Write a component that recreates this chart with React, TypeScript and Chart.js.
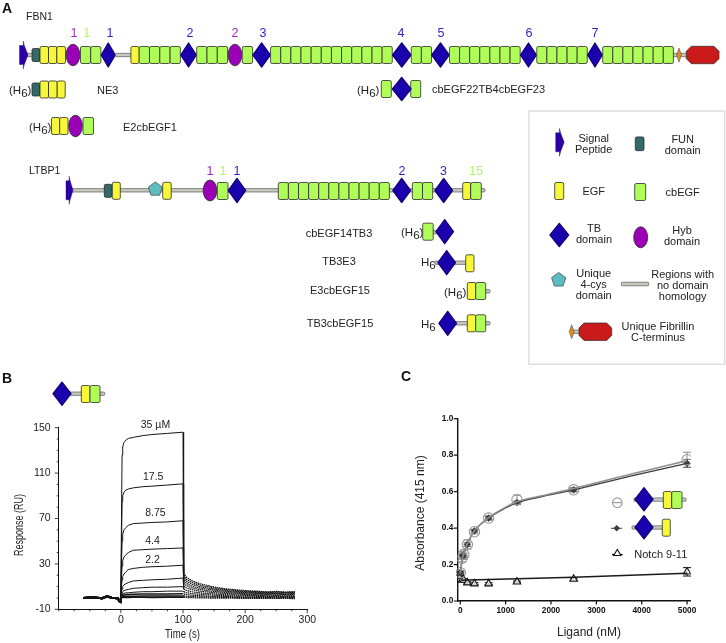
import React, { useEffect, useRef } from "react";
import { Chart, registerables } from "chart.js";

Chart.register(...registerables);

const FONT = '"Liberation Sans", Arial, sans-serif';

// ---------- Panel B data (SPR sensorgrams) ----------
const bPreTimes = [-60, -45, -30, -22, -15, -5, -1];
const bAssocTimes = [0, 1, 2, 3, 5, 8, 12, 20, 35, 50, 75, 99, 100];
const bDissocTimes = [101, 103, 106, 110, 115, 120, 128, 136, 145, 155, 165, 175, 190, 205, 220, 235, 250, 265, 280];
const bBaseline = [0, 0.4, -0.3, 1.4, 0.2, -0.2, -4];

const assoc35 = [0, 70, 126, 133, 137, 139, 140.5, 141.5, 143, 144, 145, 146, 146];
const assoc17 = [0, 45, 85, 90, 93, 95, 96, 97, 98, 98.5, 99.5, 100.5, 100.5];
const assoc8 = [0, 30, 50, 56, 60, 62, 64, 65.5, 66, 66.5, 67, 68, 68];
const assoc4 = [0, 18, 28, 33, 36, 38, 40, 42, 42.5, 43, 43.5, 44, 44.5];
const assoc2 = [0, 10, 16, 19, 21, 23, 25, 26, 27, 27.5, 28, 28.8, 29];
const assoc1 = [0, 5, 8, 10, 11.5, 12.5, 13.5, 15, 15.5, 16, 16.5, 17.5, 17.5];
const assoc05 = [0, 3, 4.5, 5.5, 6.5, 7, 7.5, 8.5, 9, 9.5, 9.5, 10, 10];
const assoc03 = [0, 1.5, 3, 3.5, 4, 4.5, 4.5, 5, 5.5, 5.5, 6, 6, 6];
const assoc014 = [0, 1, 2, 2.5, 2.5, 3, 3, 3.2, 3.4, 3.4, 3.5, 3.6, 3.6];
const assoc007 = [0, 0.5, 1, 1.2, 1.4, 1.5, 1.5, 1.6, 1.7, 1.7, 1.7, 1.8, 1.8];
const assoc003 = [0, 0.2, 0.3, 0.4, 0.5, 0.5, 0.5, 0.6, 0.6, 0.5, 0.6, 0.6, 0.6];

const dissoc35 = [22, 20, 18, 16.5, 15, 14, 12.4, 11.4, 10.2, 9.2, 8.3, 7.7, 7, 6.3, 5.9, 5.4, 5.8, 5.2, 5.6];
const dissoc17 = [20, 18, 16.3, 14.8, 13.6, 12.5, 11.2, 10.1, 9.3, 8.3, 7.6, 7.1, 6.2, 5.7, 5.5, 4.9, 5.2, 4.8, 5];
const dissoc8 = [18, 16, 14.5, 13.2, 12, 11.1, 9.9, 9, 8.2, 7.4, 6.9, 6.2, 5.7, 5.1, 4.7, 4.5, 4.4, 4.6, 4.3];
const dissoc4 = [15.5, 14, 12.7, 11.5, 10.4, 9.6, 8.6, 7.9, 7.2, 6.5, 5.9, 5.5, 4.8, 4.6, 4.1, 3.9, 4, 3.6, 3.9];
const dissoc2 = [13, 11.8, 10.8, 9.8, 8.9, 8.2, 7.3, 6.6, 6, 5.5, 5, 4.5, 4.2, 3.7, 3.6, 3.2, 3.4, 3, 3.3];
const dissoc1 = [10.5, 9.6, 8.8, 8, 7.3, 6.6, 5.9, 5.4, 4.9, 4.4, 4.1, 3.7, 3.3, 3.1, 2.8, 2.7, 2.5, 2.7, 2.4];
const dissoc05 = [8, 7.3, 6.6, 6, 5.4, 5, 4.5, 4, 3.7, 3.3, 3, 2.8, 2.5, 2.2, 2.2, 1.9, 2, 1.7, 1.9];
const dissoc03 = [5.6, 5.1, 4.6, 4.2, 3.8, 3.5, 3.1, 2.8, 2.6, 2.3, 2.1, 1.9, 1.6, 1.6, 1.3, 1.4, 1.1, 1.3, 1.1];
const dissoc014 = [3.6, 3.2, 2.9, 2.7, 2.4, 2.2, 1.9, 1.7, 1.5, 1.4, 1.2, 1.1, 0.9, 0.8, 0.8, 0.6, 0.7, 0.5, 0.6];
const dissoc007 = [1.9, 1.7, 1.5, 1.4, 1.2, 1.1, 0.9, 0.8, 0.7, 0.6, 0.5, 0.5, 0.3, 0.4, 0.2, 0.3, 0.1, 0.2, 0];
const dissoc003 = [0.7, 0.5, 0.4, 0.3, 0.3, 0.1, 0.1, 0, -0.1, -0.1, -0.2, -0.2, -0.3, -0.3, -0.4, -0.3, -0.5, -0.4, -0.6];

const bAssocSeries = [assoc35, assoc17, assoc8, assoc4, assoc2, assoc1, assoc05, assoc03, assoc014, assoc007, assoc003];
const bDissocSeries = [dissoc35, dissoc17, dissoc8, dissoc4, dissoc2, dissoc1, dissoc05, dissoc03, dissoc014, dissoc007, dissoc003];

const bConcLabels = ["35 \u00b5M", "17.5", "8.75", "4.4", "2.2"];
const bConcLabelTimes = [55.7, 52, 55.7, 51, 51];
const bConcLabelRU = [152.4, 106.6, 74.8, 50.1, 33.4];
const bYLabels = [-10, 30, 70, 110, 150];
const bXLabels = [0, 100, 200, 300];
const bYTicks = [-10, 0, 10, 20, 30, 40, 50, 60, 70, 80, 90, 100, 110, 120, 130, 140, 150];
const bXTicks = [-100, -75, -50, -25, 0, 25, 50, 75, 100, 125, 150, 175, 200, 225, 250, 275, 300];

// ---------- Panel C data (solid-phase binding) ----------
const cLigand = [0, 39, 78, 156, 312, 625, 1250, 2500, 5000];
const cOpenCircle = [0.155, 0.235, 0.255, 0.31, 0.38, 0.455, 0.555, 0.61, 0.775];
const cOpenErr = [0.012, 0.02, 0.025, 0.025, 0.012, 0.012, 0.026, 0.012, 0.041];
const cDarkPoint = [0.155, 0.25, 0.25, 0.31, 0.385, 0.455, 0.54, 0.61, 0.755];
const cDarkErr = [0.008, 0.02, 0.012, 0.01, 0.008, 0.008, 0.008, 0.008, 0.022];
const cTriangle = [0.15, 0.115, 0.115, 0.1, 0.095, 0.095, 0.105, 0.12, 0.16];
const cTriErr = [0.008, 0.008, 0.006, 0.006, 0.005, 0.005, 0.005, 0.006, 0.023];

const cFitX = [0, 20, 39, 78, 156, 312, 625, 1000, 1250, 1800, 2500, 3750, 5000];
const cFitOpen = [0.15, 0.19, 0.225, 0.262, 0.315, 0.385, 0.457, 0.515, 0.545, 0.577, 0.617, 0.695, 0.77];
const cFitDark = [0.15, 0.19, 0.225, 0.262, 0.315, 0.385, 0.455, 0.51, 0.54, 0.572, 0.61, 0.685, 0.755];
const cFitTriX = [39, 156, 625, 1250, 2500, 3750, 5000];
const cFitTri = [0.114, 0.115, 0.118, 0.122, 0.13, 0.141, 0.152];
const cXTicks = [0, 1000, 2000, 3000, 4000, 5000];
const cYTicks = [0, 0.2, 0.4, 0.6, 0.8, 1.0];

// ---------- Colours ----------
const EGF = "#f7f73a";
const CB = "#b0fd5a";
const TB = "#1b00ae";
const HYB = "#9a00b6";
const FUN = "#33696b";
const SIG = "#2b00a5";
const PENT = "#5dbcc0";
const RED = "#cb1a1a";
const ORG = "#e08a20";
const LINK = "#c6c8bb";
const PURPLE = "#a428c4";
const LIME = "#b6f26a";
const BLUE = "#2f1fc4";
const EDGE = "#2a2a2a";

// ---------- Chart.js helpers ----------
function tickMarkPlugin(xMajors: number[], yMajors: number[], major: number, minor: number, w: number) {
  return {
    id: "tickMarks",
    afterDraw(chart: any) {
      const { ctx, scales } = chart;
      ctx.save();
      ctx.strokeStyle = "#111";
      ctx.lineWidth = w;
      ctx.beginPath();
      for (const t of scales.x.ticks) {
        const px = scales.x.getPixelForValue(t.value);
        const len = xMajors.includes(t.value) ? major : minor;
        ctx.moveTo(px, scales.x.top);
        ctx.lineTo(px, scales.x.top + len);
      }
      for (const t of scales.y.ticks) {
        const py = scales.y.getPixelForValue(t.value);
        const len = yMajors.some((m) => Math.abs(m - t.value) < 1e-6) ? major : minor;
        ctx.moveTo(scales.y.right, py);
        ctx.lineTo(scales.y.right - len, py);
      }
      ctx.stroke();
      ctx.restore();
    },
  };
}

// Axis titles placed by hand: the reference's titles are off-centre from their axes,
// and those of panel B are horizontally condensed (xStretch / yStretch).
function axisTitlePlugin(
  xText: string, xCx: number, xCy: number, xSize: number, xStretch: number,
  yText: string, yCx: number, yCy: number, ySize: number, yStretch: number,
) {
  return {
    id: "axisTitles",
    afterDraw(chart: any) {
      const { ctx } = chart;
      ctx.save();
      ctx.fillStyle = "#222";
      ctx.textAlign = "center";
      ctx.textBaseline = "middle";
      ctx.save();
      ctx.translate(xCx, xCy);
      ctx.scale(xStretch, 1);
      ctx.font = `${xSize}px ${FONT}`;
      ctx.fillText(xText, 0, 0);
      ctx.restore();
      ctx.translate(yCx, yCy);
      ctx.rotate(-Math.PI / 2);
      ctx.scale(yStretch, 1);
      ctx.font = `${ySize}px ${FONT}`;
      ctx.fillText(yText, 0, 0);
      ctx.restore();
    },
  };
}

const concLabelPlugin = {
  id: "concLabels",
  afterDraw(chart: any) {
    const { ctx, scales } = chart;
    ctx.save();
    ctx.font = `10.5px ${FONT}`;
    ctx.fillStyle = "#222";
    ctx.textAlign = "center";
    ctx.textBaseline = "middle";
    bConcLabels.forEach((s, i) => {
      ctx.fillText(s, scales.x.getPixelForValue(bConcLabelTimes[i]), scales.y.getPixelForValue(bConcLabelRU[i]));
    });
    ctx.restore();
  },
};

const errorBarPlugin = {
  id: "errorBars",
  beforeDatasetsDraw(chart: any) {
    const { ctx, scales } = chart;
    const series: [number[], number[], string, number][] = [
      [cOpenCircle, cOpenErr, "#8c8c8c", 1],
      [cDarkPoint, cDarkErr, "#555", 0.8],
      [cTriangle, cTriErr, "#111", 1],
    ];
    ctx.save();
    for (const [vals, errs, color, lw] of series) {
      ctx.strokeStyle = color;
      ctx.lineWidth = lw;
      vals.forEach((v, i) => {
        const px = scales.x.getPixelForValue(cLigand[i]);
        const hi = scales.y.getPixelForValue(v + errs[i]);
        const lo = scales.y.getPixelForValue(v - errs[i]);
        ctx.beginPath();
        ctx.moveTo(px, hi);
        ctx.lineTo(px, lo);
        ctx.moveTo(px - 4, hi);
        ctx.lineTo(px + 4, hi);
        ctx.moveTo(px - 4, lo);
        ctx.lineTo(px + 4, lo);
        ctx.stroke();
      });
    }
    ctx.restore();
  },
};

function xy(xs: number[], ys: number[]) {
  return xs.map((x, i) => ({ x, y: ys[i] }));
}

function ChartB() {
  const ref = useRef<HTMLCanvasElement>(null);
  useEffect(() => {
    const allTimes = [...bPreTimes, ...bAssocTimes, ...bDissocTimes];
    const chart = new Chart(ref.current as HTMLCanvasElement, {
      type: "line",
      data: {
        datasets: bAssocSeries.map((a, i) => ({
          data: xy(allTimes, [...bBaseline, ...a, ...bDissocSeries[i]]),
          borderColor: "#151515",
          borderWidth: i >= 8 ? 1.5 : 1,
          pointRadius: 0,
          tension: 0,
          segment: {
            borderDash: (c: any) => (c.p0.parsed.x >= 101 ? [1.6, 0.6] : undefined),
            borderWidth: (c: any) => (c.p0.parsed.x < -1 ? 2 : c.p0.parsed.x >= 101 ? 1.2 : undefined),
          },
        })),
      },
      options: {
        animation: false,
        responsive: false,
        layout: { padding: { left: 0, top: 22.7, right: 22.7, bottom: 0 } },
        plugins: { legend: { display: false }, tooltip: { enabled: false } },
        scales: {
          x: {
            type: "linear",
            min: -100,
            max: 300,
            afterFit: (s: any) => { s.height = 33.7; },
            afterBuildTicks: (s: any) => { s.ticks = bXTicks.map((value) => ({ value })); },
            border: { display: true, color: "#111", width: 1 },
            grid: { display: false, drawTicks: false },
            ticks: {
              autoSkip: false,
              maxRotation: 0,
              padding: 5,
              color: "#222",
              font: { family: FONT, size: 10.5 },
              callback: (v: any) => (bXLabels.includes(Number(v)) ? String(v) : ""),
            },
          },
          y: {
            type: "linear",
            min: -10,
            max: 150,
            afterFit: (s: any) => { s.width = 58.7; },
            afterBuildTicks: (s: any) => { s.ticks = bYTicks.map((value) => ({ value })); },
            border: { display: true, color: "#111", width: 1 },
            grid: { display: false, drawTicks: false },
            ticks: {
              autoSkip: false,
              padding: 8,
              color: "#222",
              font: { family: FONT, size: 10.5 },
              callback: (v: any) => (bYLabels.includes(Number(v)) ? String(v) : ""),
            },
          },
        },
      },
      plugins: [
        tickMarkPlugin(bXLabels, bYLabels, 4, 2, 0.8),
        concLabelPlugin,
        axisTitlePlugin("Time (s)", 182.5, 230, 12, 0.8, "Response (RU)", 20, 120, 12, 0.75),
      ],
    } as any);
    return () => chart.destroy();
  }, []);
  return <canvas ref={ref} width={330} height={238} style={{ position: "absolute", left: 0, top: 405 }} />;
}

function ChartC() {
  const ref = useRef<HTMLCanvasElement>(null);
  useEffect(() => {
    const chart = new Chart(ref.current as HTMLCanvasElement, {
      type: "line",
      data: {
        datasets: [
          { data: xy(cFitX, cFitOpen), borderColor: "#8f8f8f", borderWidth: 1.6, pointRadius: 0, cubicInterpolationMode: "monotone" },
          { data: xy(cFitX, cFitDark), borderColor: "#3a3a3a", borderWidth: 1.3, pointRadius: 0, cubicInterpolationMode: "monotone" },
          { data: xy(cFitTriX, cFitTri), borderColor: "#1a1a1a", borderWidth: 1.4, pointRadius: 0 },
          { data: xy(cLigand, cOpenCircle), showLine: false, pointStyle: "circle", pointRadius: 5.2, pointBorderColor: "#9a9a9a", pointBorderWidth: 1.1, pointBackgroundColor: "rgba(255,255,255,0)" },
          { data: xy(cLigand, cDarkPoint), showLine: false, pointStyle: "rectRot", pointRadius: 3.4, pointBorderColor: "#3c3c3c", pointBorderWidth: 0.6, pointBackgroundColor: "#3c3c3c" },
          { data: xy(cLigand, cTriangle), showLine: false, pointStyle: "triangle", pointRadius: 4.3, pointBorderColor: "#111", pointBorderWidth: 1.1, pointBackgroundColor: "rgba(255,255,255,0.75)" },
        ],
      },
      options: {
        animation: false,
        responsive: false,
        layout: { padding: { left: 0, top: 18.7, right: 35.3, bottom: 0 } },
        plugins: { legend: { display: false }, tooltip: { enabled: false } },
        scales: {
          x: {
            type: "linear",
            min: -66,
            max: 5080,
            afterFit: (s: any) => { s.height = 42; },
            afterBuildTicks: (s: any) => { s.ticks = cXTicks.map((value) => ({ value })); },
            border: { display: true, color: "#111", width: 1.4 },
            grid: { display: false, drawTicks: false },
            ticks: {
              autoSkip: false,
              maxRotation: 0,
              padding: 5,
              color: "#111",
              font: { family: FONT, size: 8.3, weight: "bold" },
              callback: (v: any) => String(v),
            },
          },
          y: {
            type: "linear",
            min: 0,
            max: 1,
            afterFit: (s: any) => { s.width = 57.3; },
            afterBuildTicks: (s: any) => { s.ticks = cYTicks.map((value) => ({ value })); },
            border: { display: true, color: "#111", width: 1.4 },
            grid: { display: false, drawTicks: false },
            ticks: {
              autoSkip: false,
              padding: 4,
              color: "#111",
              font: { family: FONT, size: 8.3, weight: "bold" },
              callback: (v: any) => Number(v).toFixed(1),
            },
          },
        },
      },
      plugins: [
        tickMarkPlugin(cXTicks, cYTicks, 3.5, 3.5, 1.2),
        errorBarPlugin,
        axisTitlePlugin("Ligand (nM)", 189, 232.7, 12, 1, "Absorbance (415 nm)", 20.7, 113, 12, 1),
      ],
    } as any);
    return () => chart.destroy();
  }, []);
  return <canvas ref={ref} width={326} height={243} style={{ position: "absolute", left: 400, top: 400 }} />;
}

// ---------- Schematic glyphs ----------
function Box({ x, w, y, h, fill }: any) {
  return <rect x={x} y={y - h / 2} width={w} height={h} rx={1.6} fill={fill} stroke={EDGE} strokeWidth={0.8} />;
}
const Egf = ({ x, w = 8.3, y, h = 17 }: any) => <Box x={x} w={w} y={y} h={h} fill={EGF} />;
const Cb = ({ x, w = 10.2, y, h = 17 }: any) => <Box x={x} w={w} y={y} h={h} fill={CB} />;
const Fun = ({ x, w = 8, y, h = 13 }: any) => <Box x={x} w={w} y={y} h={h} fill={FUN} />;
function Diamond({ cx, cy, rx = 9, ry = 12 }: any) {
  return (
    <path
      d={`M${cx} ${cy - ry}L${cx + rx} ${cy}L${cx} ${cy + ry}L${cx - rx} ${cy}Z`}
      fill={TB}
      stroke="#14007a"
      strokeWidth={1.3}
      strokeLinejoin="round"
    />
  );
}
function Hyb({ cx, cy, rx = 6.8, ry = 10.8 }: any) {
  return <ellipse cx={cx} cy={cy} rx={rx} ry={ry} fill={HYB} stroke={EDGE} strokeWidth={0.8} />;
}
function Link({ x1, x2, y, h = 3.4 }: any) {
  return <rect x={x1} y={y - h / 2} width={x2 - x1} height={h} rx={0.8} fill={LINK} stroke="#444" strokeWidth={0.6} />;
}
function Signal({ x, y, w = 8.5 }: any) {
  const a = x + w * 0.45;
  return (
    <polygon
      points={`${x},${y - 9.5} ${a},${y - 9.5} ${a},${y - 14} ${a + 1},${y - 9.5} ${x + w},${y} ${a + 1},${y + 9.5} ${a},${y + 14} ${a},${y + 9.5} ${x},${y + 9.5}`}
      fill={SIG}
      stroke="#1a0070"
      strokeWidth={0.4}
    />
  );
}
function Pentagon({ cx, cy, r = 7.3 }: any) {
  const pts = [0, 72, 144, 216, 288]
    .map((d) => {
      const t = (d * Math.PI) / 180;
      return `${cx + r * Math.sin(t)},${cy - r * Math.cos(t)}`;
    })
    .join(" ");
  return <polygon points={pts} fill={PENT} stroke="#444" strokeWidth={0.7} strokeLinejoin="round" />;
}
function Cterm({ x1, x2, y, h = 17.4 }: any) {
  const c = 5;
  const t = y - h / 2;
  const b = y + h / 2;
  return (
    <polygon
      points={`${x1 + c},${t} ${x2 - c},${t} ${x2},${t + c} ${x2},${b - c} ${x2 - c},${b} ${x1 + c},${b} ${x1},${b - c} ${x1},${t + c}`}
      fill={RED}
      stroke={EDGE}
      strokeWidth={0.7}
    />
  );
}
function Spark({ cx, cy }: any) {
  return <path d={`M${cx} ${cy - 7}L${cx + 2.5} ${cy}L${cx} ${cy + 7}L${cx - 2.5} ${cy}Z`} fill={ORG} stroke="#444" strokeWidth={0.5} />;
}
function T({ x, y, s, size = 11, color = "#222", anchor = "middle", weight }: any) {
  return (
    <text x={x} y={y} fontSize={size} fill={color} textAnchor={anchor} fontWeight={weight} dominantBaseline="central" fontFamily={FONT}>
      {s}
    </text>
  );
}
function H6({ x, y, paren = true }: any) {
  return (
    <text x={x} y={y} fontSize={11.5} fill="#222" dominantBaseline="central" fontFamily={FONT}>
      {paren ? "(H" : "H"}
      <tspan dy={3}>6</tspan>
      {paren ? <tspan dy={-3}>)</tspan> : null}
    </text>
  );
}

// sequence of domains on one line: each piece has a kind and a width
function Row({ x0, y, pieces }: { x0: number; y: number; pieces: [string, number][] }) {
  let x = x0;
  return (
    <>
      {pieces.map(([k, w], i) => {
        const at = x;
        x += w;
        if (k === "E") return <Egf key={i} x={at} w={w} y={y} />;
        if (k === "C") return <Cb key={i} x={at} w={w} y={y} />;
        if (k === "F") return <Fun key={i} x={at} w={w} y={y} />;
        if (k === "H") return <Hyb key={i} cx={at + w / 2} cy={y} />;
        if (k === "T") return <Diamond key={i} cx={at + w / 2} cy={y} rx={w / 2 - 0.3} />;
        if (k === "L") return <Link key={i} x1={at} x2={at + w} y={y} />;
        return null;
      })}
    </>
  );
}

const times = (n: number, k: string, w: number): [string, number][] => Array.from({ length: n }, () => [k, w] as [string, number]);

const fbn1Pieces: [string, number][] = [
  ["F", 8], ["E", 8.5], ["E", 8.3], ["E", 8.7], ["H", 15], ...times(2, "C", 10.2), ["T", 14.7], ["L", 15.3], ["E", 8.3],
  ...times(4, "C", 10.3), ["T", 16.3], ...times(3, "C", 10.3), ["H", 14.7], ["C", 10.3], ["T", 18], ...times(12, "C", 10.14),
  ["T", 19], ...times(2, "C", 10.1), ["T", 18], ...times(7, "C", 10.1), ["T", 16.6], ...times(5, "C", 10.1), ["T", 15.4], ...times(7, "C", 10.1),
];

const fbn1Numbers: [number, string, string][] = [
  [74, "1", PURPLE], [86.7, "1", LIME], [110, "1", BLUE], [190, "2", BLUE], [235, "2", PURPLE], [263, "3", BLUE],
  [401, "4", BLUE], [441, "5", BLUE], [529, "6", BLUE], [595, "7", BLUE],
];
const ltbpNumbers: [number, string, string][] = [
  [210, "1", PURPLE], [223, "1", LIME], [237, "1", BLUE], [402, "2", BLUE], [443.5, "3", BLUE], [476, "15", LIME],
];

function Schematic() {
  return (
    <svg width={726} height={643} style={{ position: "absolute", left: 0, top: 0 }}>
      <T x={2} y={8} s="A" size={14} weight="bold" anchor="start" color="#111" />
      <T x={2} y={378} s="B" size={14} weight="bold" anchor="start" color="#111" />
      <T x={401} y={376} s="C" size={14} weight="bold" anchor="start" color="#111" />

      {/* FBN1 */}
      <T x={26} y={16} s="FBN1" size={10.5} anchor="start" />
      {fbn1Numbers.map(([x, s, c], i) => <T key={i} x={x} y={33} s={s} size={12.5} color={c} />)}
      <Link x1={24} x2={34} y={55} />
      <Link x1={672} x2={688} y={55} />
      <Signal x={19.5} y={55} />
      <Row x0={32} y={55} pieces={fbn1Pieces} />
      <Spark cx={679} cy={55} />
      <Cterm x1={686.3} x2={719} y={55} />

      {/* NE3 */}
      <H6 x={9} y={90} />
      <Row x0={32} y={89.5} pieces={[["F", 8], ["E", 8.5], ["E", 8.7], ["E", 8]]} />
      <T x={97} y={90} s="NE3" anchor="start" />

      {/* E2cbEGF1 */}
      <H6 x={29} y={127} />
      <Row x0={51.5} y={126} pieces={[["E", 8.2], ["E", 8.3], ["H", 15], ["C", 10.5]]} />
      <T x={123} y={127} s="E2cbEGF1" anchor="start" />

      {/* cbEGF22TB4cbEGF23 */}
      <H6 x={357} y={90} />
      <Cb x={381.3} w={10} y={89} />
      <Cb x={410.7} w={10} y={89} />
      <Diamond cx={401.7} cy={89} rx={9.3} ry={11.5} />
      <T x={432} y={89} s="cbEGF22TB4cbEGF23" anchor="start" />

      {/* LTBP1 */}
      <T x={29} y={169.5} s="LTBP1" size={10.5} anchor="start" />
      {ltbpNumbers.map(([x, s, c], i) => <T key={i} x={x} y={171} s={s} size={12.5} color={c} />)}
      <Link x1={70} x2={485} y={190.3} />
      <Signal x={66} y={190.3} w={7} />
      <Fun x={104.3} w={7.8} y={190.8} />
      <Egf x={112.3} w={8} y={190.8} />
      <Pentagon cx={155.3} cy={189.3} />
      <Egf x={162.7} w={8.5} y={190.8} />
      <Hyb cx={210} cy={190.5} ry={10.5} />
      <Cb x={217.3} w={10.7} y={191} />
      <Diamond cx={237} cy={190.5} rx={8.6} />
      <Row x0={278.3} y={191} pieces={times(11, "C", 10.1)} />
      <Diamond cx={401.7} cy={190.5} rx={8.8} />
      <Cb x={412.3} w={10.2} y={191} />
      <Cb x={422.5} w={10.2} y={191} />
      <Diamond cx={443.7} cy={190.5} rx={8.8} />
      <Egf x={462.7} w={8} y={191} />
      <Cb x={470.7} w={10.6} y={191} />

      {/* LTBP1 fragments */}
      <T x={339} y={233} s="cbEGF14TB3" />
      <H6 x={401} y={232} />
      <Link x1={432} x2={437} y={232} />
      <Cb x={422.7} w={10.5} y={231.7} />
      <Diamond cx={444.7} cy={231.7} rx={8.8} />

      <T x={339} y={261} s="TB3E3" />
      <H6 x={421} y={262} paren={false} />
      <Link x1={435} x2={470} y={262.7} />
      <Diamond cx={446.7} cy={262.7} rx={8.8} />
      <Egf x={465.7} w={8.3} y={263.3} />

      <T x={340} y={290} s="E3cbEGF15" />
      <H6 x={444} y={292} />
      <Link x1={482} x2={490} y={291.3} />
      <Egf x={467.3} w={8.4} y={291} />
      <Cb x={475.7} w={10} y={291} />

      <T x={340} y={323} s="TB3cbEGF15" />
      <H6 x={421} y={324} paren={false} />
      <Link x1={450} x2={490} y={323.3} />
      <Diamond cx={447.7} cy={323.3} rx={8.8} />
      <Egf x={467.3} w={8.4} y={323.3} />
      <Cb x={475.7} w={10} y={323.3} />

      {/* Legend box */}
      <rect x={529} y={111} width={195.7} height={253.3} fill="none" stroke="#dcdcdc" strokeWidth={1.4} />
      <Signal x={555.7} y={142.3} />
      <T x={593.7} y={138.3} s="Signal" />
      <T x={593.7} y={149} s="Peptide" />
      <Fun x={635.3} w={8.7} y={143.8} h={13.7} />
      <T x={682.7} y={138.7} s="FUN" />
      <T x={682.7} y={149.7} s="domain" />
      <Egf x={554.7} w={9} y={191} />
      <T x={593.7} y={190.7} s="EGF" />
      <Cb x={634.7} w={11} y={192} />
      <T x={682.7} y={192} s="cbEGF" />
      <Diamond cx={559.3} cy={235} rx={9.3} ry={11.6} />
      <T x={594} y={228} s="TB" />
      <T x={594} y={239.3} s="domain" />
      <Hyb cx={640.7} cy={237.3} rx={7} ry={10.5} />
      <T x={682} y={230} s="Hyb" />
      <T x={682} y={240.5} s="domain" />
      <Pentagon cx={558.7} cy={280} r={7.5} />
      <T x={593.7} y={273} s="Unique" />
      <T x={593.7} y={284} s="4-cys" />
      <T x={593.7} y={295} s="domain" />
      <Link x1={621.3} x2={648.7} y={284} h={3.6} />
      <T x={682.7} y={273.7} s="Regions with" />
      <T x={682.7} y={284.7} s="no domain" />
      <T x={682.7} y={295.7} s="homology" />
      <Link x1={572} x2={580} y={331.7} />
      <Spark cx={571.7} cy={331.7} />
      <Cterm x1={579} x2={611.7} y={331.7} />
      <T x={658} y={326} s="Unique Fibrillin" />
      <T x={658} y={337} s="C-terminus" />

      {/* Construct above panel B */}
      <Link x1={68} x2={104.7} y={393.7} />
      <Diamond cx={62} cy={393.7} rx={9} ry={11.6} />
      <Egf x={81.3} w={8.7} y={394} />
      <Cb x={90} w={10} y={394} />

      {/* Panel C legend */}
      <circle cx={617.3} cy={502.7} r={4.8} fill="none" stroke="#999" strokeWidth={1.1} />
      <line x1={612.5} x2={622} y1={502.7} y2={502.7} stroke="#888" strokeWidth={1} />
      <Link x1={634} x2={686} y={499.6} />
      <Diamond cx={644} cy={499.3} rx={9} ry={11.6} />
      <Egf x={663.3} w={8.4} y={500} />
      <Cb x={671.7} w={10.3} y={500} />

      <line x1={611} x2={622} y1={528.3} y2={528.3} stroke="#444" strokeWidth={1} />
      <path d="M616.7 525L620 528.3L616.7 531.6L613.4 528.3Z" fill="#3c3c3c" />
      <Link x1={632} x2={664} y={527.5} />
      <Diamond cx={644} cy={527.3} rx={9} ry={11.6} />
      <Egf x={662.3} w={8} y={527.7} />

      <line x1={612} x2={622.7} y1={554.5} y2={554.5} stroke="#111" strokeWidth={1.2} />
      <path d="M617.3 549.5L621 555.5L613.6 555.5Z" fill="#fff" stroke="#111" strokeWidth={1.1} />
      <T x={634.3} y={553.7} s="Notch 9-11" anchor="start" />
    </svg>
  );
}

export default function App() {
  return (
    <div style={{ position: "absolute", left: 0, top: 0, width: 726, height: 643, background: "#fff", overflow: "hidden" }}>
      <ChartB />
      <ChartC />
      <Schematic />
    </div>
  );
}
